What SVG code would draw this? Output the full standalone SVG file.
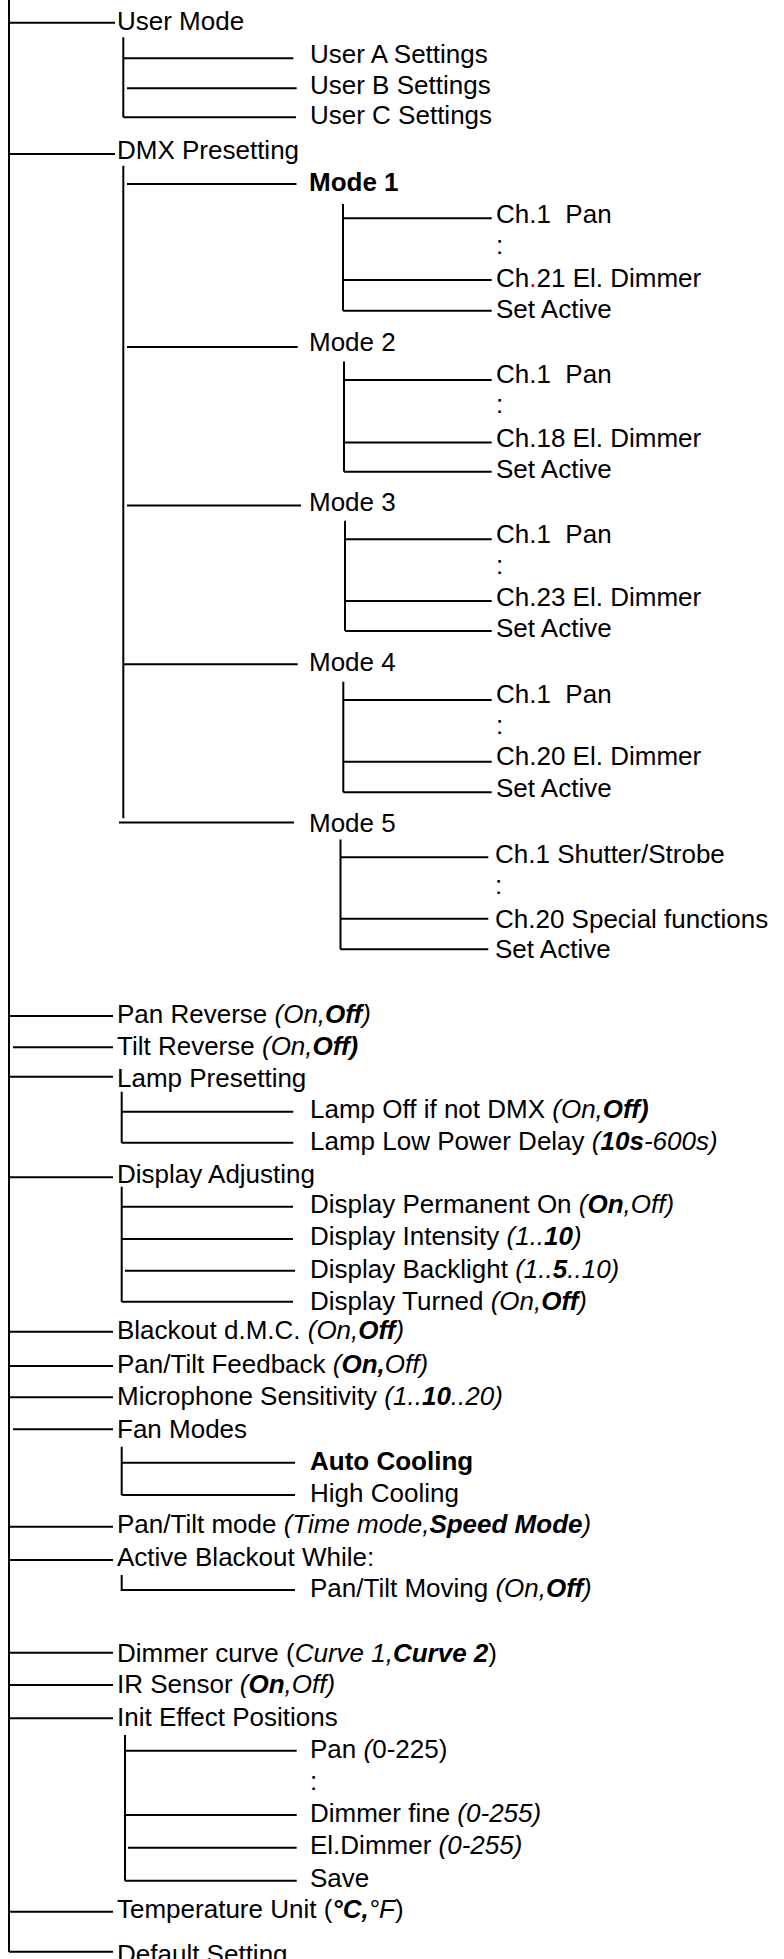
<svg xmlns="http://www.w3.org/2000/svg" width="784" height="1959" viewBox="0 0 784 1959">
<style>
text{font-family:"Liberation Sans",Arial,sans-serif;font-size:26px;fill:#000;white-space:pre}
.b{font-weight:bold}
.i{font-style:italic}
.bi{font-weight:bold;font-style:italic}
.r{fill:#e00000}
#connectors path{fill:none;stroke:#000;stroke-width:2}
</style>
<rect width="784" height="1959" fill="#fff"/>
<g id="connectors">
<path d="M9 0V1952"/>
<path d="M9 22.7H115M9 154H115M9 1016H113M13 1047.3H113M9 1076.7H113M9 1177.3H113M9 1331.7H113M9 1366H113M9 1397.3H113M13 1429.3H113M9 1526.7H113M9 1560H113M9 1652.7H113M9 1685H113M9 1718.3H113M9 1911.7H113M9 1951.7H113"/>
<path d="M123.3 37.3V117.3M123.3 58.3H293.3M127 88.3H296.7M123.3 117.3H296"/>
<path d="M123.3 165.7V818.3M127 184H296.5M127 347H297.7M127 505.5H301M123.3 664.3H297.7M119 822.5H294"/>
<path d="M343 204V310.7M343 218.3H491.7M343 280H491.7M343 310.7H491.7"/>
<path d="M344 361.5V471.7M344 380H491.7M344 442.5H491.7M344 471.7H491.7"/>
<path d="M345 520.7V631M345 539.3H491.7M345 601H491.7M345 631H491.7"/>
<path d="M343.3 681.7V792.3M343.3 700H491.7M343.3 761.7H491.7M343.3 792.3H491.7"/>
<path d="M340.5 839.5V949.2M340.5 857.2H488.3M340.5 918.8H488.3M340.5 949.2H488.3"/>
<path d="M121.7 1091.7V1142.7M121.7 1111.7H293.3M121.7 1142.7H293.3"/>
<path d="M121.7 1186.7V1301.7M121.7 1206.7H293M121.7 1239H293M125 1270.7H295M121.7 1301.7H293"/>
<path d="M121.7 1446.7V1495M121.7 1462.7H295M121.7 1495H295"/>
<path d="M121.7 1575V1590H295"/>
<path d="M125 1735V1880.7M125 1750.7H296.7M125 1815H296.7M128 1847.7H296.7M125 1880.7H296.7"/>
</g>
<g id="user-mode"><text x="117" y="30">User Mode</text></g>
<g id="user-a"><text x="310" y="63.3">User A Settings</text></g>
<g id="user-b"><text x="310" y="94">User B Settings</text></g>
<g id="user-c"><text x="310" y="124">User C Settings</text></g>
<g id="dmx-presetting"><text x="117" y="159.3">DMX Presetting</text></g>
<g id="mode1"><text x="309" y="190.7" class="b">Mode 1</text></g>
<g id="m1-ch1"><text x="496" y="222.7" xml:space="preserve">Ch.1  Pan</text></g>
<g id="m1-dots"><text x="496" y="254">:</text></g>
<g id="m1-ch21"><text x="496" y="286.7">Ch<tspan class="r">.</tspan>21 El. Dimmer</text></g>
<g id="m1-set"><text x="496" y="318">Set Active</text></g>
<g id="mode2"><text x="309" y="351">Mode 2</text></g>
<g id="m2-ch1"><text x="496" y="382.7" xml:space="preserve">Ch.1  Pan</text></g>
<g id="m2-dots"><text x="496" y="413.3">:</text></g>
<g id="m2-ch18"><text x="496" y="446.5">Ch.18 El. Dimmer</text></g>
<g id="m2-set"><text x="496" y="478.3">Set Active</text></g>
<g id="mode3"><text x="309" y="510.7">Mode 3</text></g>
<g id="m3-ch1"><text x="496" y="542.7" xml:space="preserve">Ch.1  Pan</text></g>
<g id="m3-dots"><text x="496" y="574">:</text></g>
<g id="m3-ch23"><text x="496" y="606">Ch.23 El. Dimmer</text></g>
<g id="m3-set"><text x="496" y="637.3">Set Active</text></g>
<g id="mode4"><text x="309" y="670.7">Mode 4</text></g>
<g id="m4-ch1"><text x="496" y="702.7" xml:space="preserve">Ch.1  Pan</text></g>
<g id="m4-dots"><text x="496" y="734">:</text></g>
<g id="m4-ch20"><text x="496" y="765">Ch.20 El. Dimmer</text></g>
<g id="m4-set"><text x="496" y="797.3">Set Active</text></g>
<g id="mode5"><text x="309" y="831.5">Mode 5</text></g>
<g id="m5-ch1"><text x="495" y="863.3">Ch.1 Shutter/Strobe</text></g>
<g id="m5-dots"><text x="495" y="894.3">:</text></g>
<g id="m5-ch20"><text x="495" y="928.3">Ch.20 Special functions</text></g>
<g id="m5-set"><text x="495" y="958.3">Set Active</text></g>
<g id="pan-reverse"><text x="117" y="1023.3">Pan Reverse <tspan class="i">(On,</tspan><tspan class="bi">Off</tspan><tspan class="i">)</tspan></text></g>
<g id="tilt-reverse"><text x="117" y="1055">Tilt Reverse <tspan class="i">(On,</tspan><tspan class="bi">Off)</tspan></text></g>
<g id="lamp-presetting"><text x="117" y="1086.7">Lamp Presetting</text></g>
<g id="lamp-off"><text x="310" y="1118.3">Lamp Off if not DMX <tspan class="i">(On,</tspan><tspan class="bi">Off)</tspan></text></g>
<g id="lamp-low"><text x="310" y="1150">Lamp Low Power Delay <tspan class="i">(</tspan><tspan class="bi">10s</tspan><tspan class="i">-600s)</tspan></text></g>
<g id="display-adjusting"><text x="117" y="1182.7">Display Adjusting</text></g>
<g id="display-perm"><text x="310" y="1213.3">Display Permanent On <tspan class="i">(</tspan><tspan class="bi">On</tspan><tspan class="i">,Off)</tspan></text></g>
<g id="display-intensity"><text x="310" y="1245">Display Intensity <tspan class="i">(1..</tspan><tspan class="bi">10</tspan><tspan class="i">)</tspan></text></g>
<g id="display-backlight"><text x="310" y="1278.3">Display Backlight <tspan class="i">(1..</tspan><tspan class="bi">5</tspan><tspan class="i">..10)</tspan></text></g>
<g id="display-turned"><text x="310" y="1310">Display Turned <tspan class="i">(On,</tspan><tspan class="bi">Off</tspan><tspan class="i">)</tspan></text></g>
<g id="blackout-dmc"><text x="117" y="1339.3">Blackout d.M.C. <tspan class="i">(On,</tspan><tspan class="bi">Off</tspan><tspan class="i">)</tspan></text></g>
<g id="pt-feedback"><text x="117" y="1373.3">Pan/Tilt Feedback <tspan class="i">(</tspan><tspan class="bi">On,</tspan><tspan class="i">Off)</tspan></text></g>
<g id="microphone"><text x="117" y="1405">Microphone Sensitivity <tspan class="i">(1..</tspan><tspan class="bi">10</tspan><tspan class="i">..20)</tspan></text></g>
<g id="fan-modes"><text x="117" y="1437.7">Fan Modes</text></g>
<g id="auto-cooling"><text x="310" y="1470" class="b">Auto Cooling</text></g>
<g id="high-cooling"><text x="310" y="1501.7">High Cooling</text></g>
<g id="pt-mode"><text x="117" y="1533.3">Pan/Tilt mode <tspan class="i">(Time mode,</tspan><tspan class="bi">Speed Mode</tspan><tspan class="i">)</tspan></text></g>
<g id="active-blackout"><text x="117" y="1566">Active Blackout While:</text></g>
<g id="pt-moving"><text x="310" y="1596.7">Pan/Tilt Moving <tspan class="i">(On,</tspan><tspan class="bi">Off</tspan><tspan class="i">)</tspan></text></g>
<g id="dimmer-curve"><text x="117" y="1661.7">Dimmer curve (<tspan class="i">Curve 1,</tspan><tspan class="bi">Curve 2</tspan>)</text></g>
<g id="ir-sensor"><text x="117" y="1693.3">IR Sensor <tspan class="i">(</tspan><tspan class="bi">On</tspan><tspan class="i">,Off)</tspan></text></g>
<g id="init-effect"><text x="117" y="1726">Init Effect Positions</text></g>
<g id="init-pan"><text x="310" y="1758.3">Pan <tspan class="i">(</tspan>0-225)</text></g>
<g id="init-dots"><text x="310" y="1790">:</text></g>
<g id="init-dimmer-fine"><text x="310" y="1821.7">Dimmer fine <tspan class="i">(0-255)</tspan></text></g>
<g id="init-eldimmer"><text x="310" y="1854.3">El.Dimmer <tspan class="i">(0-255)</tspan></text></g>
<g id="init-save"><text x="310" y="1886.7">Save</text></g>
<g id="temperature-unit"><text x="117" y="1918.3">Temperature Unit (<tspan class="bi">°C,</tspan><tspan class="i">°F</tspan>)</text></g>
<g id="default-setting"><text x="117" y="1963">Default Setting</text></g>
</svg>
